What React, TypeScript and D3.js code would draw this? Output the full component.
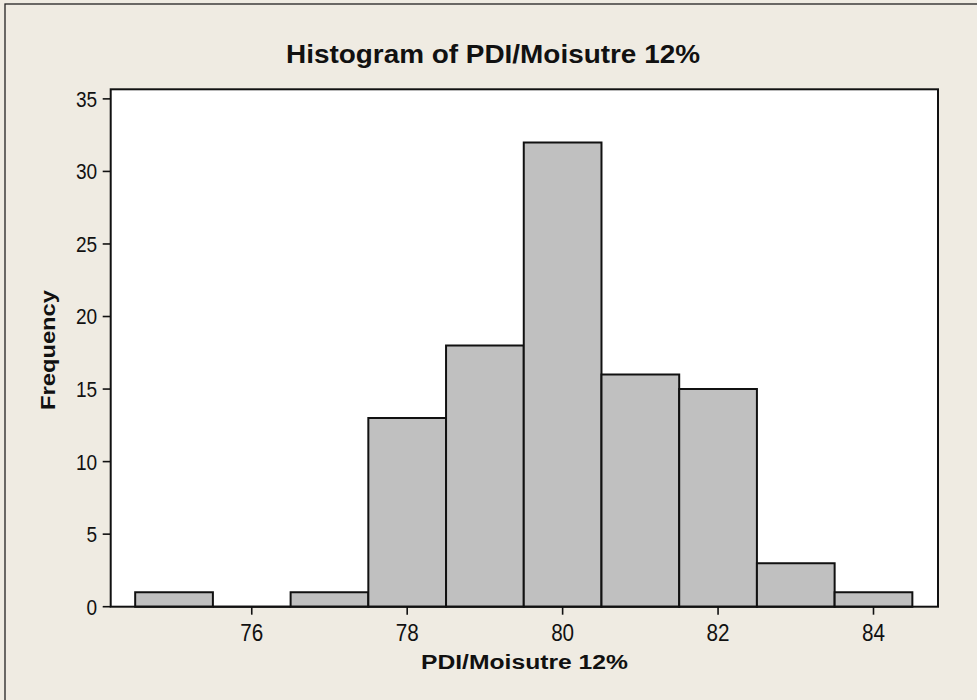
import React from "react";
import * as d3 from "d3";

const binCenters = [75, 76, 77, 78, 79, 80, 81, 82, 83, 84];
const frequencies = [1, 0, 1, 13, 18, 32, 16, 15, 3, 1];
const xTicks = [76, 78, 80, 82, 84];
const yTicks = [0, 5, 10, 15, 20, 25, 30, 35];
const title = "Histogram of PDI/Moisutre 12%";
const xLabel = "PDI/Moisutre 12%";
const yLabel = "Frequency";

const W = 977;
const H = 700;
const plot = { left: 110.7, top: 89.3, right: 938, bottom: 606.7 };

export default function App() {
  const x = d3.scaleLinear().domain([74.185, 84.83]).range([plot.left, plot.right]);
  const y = d3.scaleLinear().domain([0, 35.66]).range([plot.bottom, plot.top]);
  const tickFont = "'Liberation Sans', Arial, sans-serif";
  const boldFont = "'Liberation Sans', Arial, sans-serif";
  const digitW = 10.6;
  return (
    <svg width={W} height={H} style={{ position: "absolute", left: 0, top: 0 }}>
      <rect x={0} y={0} width={W} height={H} fill="#efebe2" />
      <rect x={5} y={4} width={W + 10} height={H + 10} fill="#efebe2" stroke="#222" strokeWidth={1.3} />
      <rect x={plot.left} y={plot.top} width={plot.right - plot.left} height={plot.bottom - plot.top} fill="#fff" />
      {binCenters.map((c, i) => {
        const x0 = x(c - 0.5);
        const x1 = x(c + 0.5);
        const y0 = y(0);
        const y1 = y(frequencies[i]);
        return (
          <path
            key={c}
            d={`M${x0},${y0}V${y1}H${x1}V${y0}Z`}
            fill="#c0c0c0"
            stroke="#111"
            strokeWidth={2}
          />
        );
      })}
      <rect x={plot.left} y={plot.top} width={plot.right - plot.left} height={plot.bottom - plot.top} fill="none" stroke="#111" strokeWidth={2} />
      {yTicks.map((t) => (
        <g key={t}>
          <line x1={plot.left - 8} x2={plot.left} y1={y(t)} y2={y(t)} stroke="#111" strokeWidth={1.6} />
          <text x={plot.left - 13.5} y={y(t)} dy="0.36em" textAnchor="end" fontFamily={tickFont} fontSize={22} textLength={String(t).length * digitW} lengthAdjust="spacingAndGlyphs" fill="#111">{t}</text>
        </g>
      ))}
      {xTicks.map((t) => (
        <g key={t}>
          <line x1={x(t)} x2={x(t)} y1={plot.bottom} y2={plot.bottom + 8} stroke="#111" strokeWidth={1.6} />
          <text x={x(t)} y={640.7} textAnchor="middle" fontFamily={tickFont} fontSize={23} textLength={String(t).length * 11.5} lengthAdjust="spacingAndGlyphs" fill="#111">{t}</text>
        </g>
      ))}
      <text x={493} y={63.3} textAnchor="middle" fontFamily={boldFont} fontWeight="bold" fontSize={25} textLength={414} lengthAdjust="spacingAndGlyphs" fill="#111">{title}</text>
      <text x={524.5} y={669.3} textAnchor="middle" fontFamily={boldFont} fontWeight="bold" fontSize={20} textLength={207} lengthAdjust="spacingAndGlyphs" fill="#111">{xLabel}</text>
      <text transform={`translate(55,350) rotate(-90)`} textAnchor="middle" fontFamily={boldFont} fontWeight="bold" fontSize={20} textLength={120} lengthAdjust="spacingAndGlyphs" fill="#111">{yLabel}</text>
    </svg>
  );
}
